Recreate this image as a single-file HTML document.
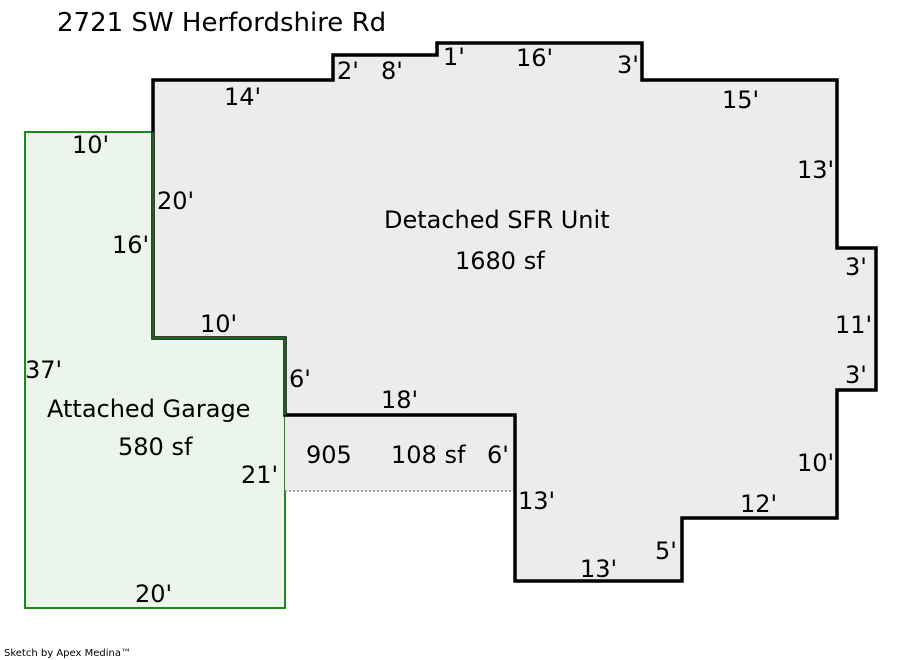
<!DOCTYPE html>
<html><head><style>body{margin:0;background:#fff}svg{display:block}text{font-family:"DejaVu Sans","Liberation Sans",sans-serif;font-size:24px;fill:#000}</style></head>
<body>
<svg width="900" height="660" viewBox="0 0 900 660">
<rect x="25" y="132" width="260" height="476" fill="#ebf5eb" stroke="#1a8a1a" stroke-width="2"/>
<rect x="285" y="415" width="230" height="76" fill="#ececec"/>
<line x1="285" y1="491" x2="515" y2="491" stroke="#888" stroke-width="1.5" stroke-dasharray="2,2"/>
<polygon points="153,80 333,80 333,55 437,55 437,43 642,43 642,80 837,80 837,248 876,248 876,390 837,390 837,518 682,518 682,581 515,581 515,415 285,415 285,338 153,338" fill="#ececec" stroke="#000" stroke-width="3.5" stroke-linejoin="miter"/>
<polyline points="153,132 153,338 285,338 285,415" fill="none" stroke="#1a8a1a" stroke-width="1.5"/>
<text x="57" y="31" style="font-size:26px">2721 SW Herfordshire Rd</text>
<text x="72" y="153">10'</text>
<text x="224" y="105">14'</text>
<text x="337" y="79">2'</text>
<text x="381" y="79">8'</text>
<text x="443" y="65">1'</text>
<text x="516" y="66">16'</text>
<text x="617" y="73">3'</text>
<text x="722" y="108">15'</text>
<text x="797" y="178">13'</text>
<text x="845" y="275">3'</text>
<text x="835" y="333">11'</text>
<text x="845" y="383">3'</text>
<text x="797" y="471">10'</text>
<text x="740" y="512">12'</text>
<text x="655" y="559">5'</text>
<text x="580" y="577">13'</text>
<text x="518" y="509">13'</text>
<text x="487" y="463">6'</text>
<text x="391" y="463">108 sf</text>
<text x="306" y="463">905</text>
<text x="241" y="483">21'</text>
<text x="381" y="408">18'</text>
<text x="289" y="387">6'</text>
<text x="200" y="332">10'</text>
<text x="157" y="209">20'</text>
<text x="112" y="253">16'</text>
<text x="25" y="378">37'</text>
<text x="47" y="417">Attached Garage</text>
<text x="118" y="455">580 sf</text>
<text x="384" y="228">Detached SFR Unit</text>
<text x="455" y="269">1680 sf</text>
<text x="135" y="602">20'</text>
<text x="4" y="656" style="font-size:10px">Sketch by Apex Medina™</text>
</svg>
</body></html>
